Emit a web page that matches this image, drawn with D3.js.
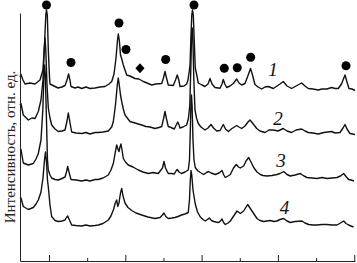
<!DOCTYPE html>
<html>
<head>
<meta charset="utf-8">
<script src="https://cdn.jsdelivr.net/npm/d3@7"></script>
<style>
    html, body { margin: 0; padding: 0; background: #fff; }
    svg { display: block; }
</style>
</head>
<body>
<div id="chart"></div>
<script>

// 2theta (deg), intensity (a.u., curves already stacked)
var curve1 = [[6.20,184],[6.33,186.5],[6.59,181],[6.86,177],[7.51,178],[8.17,177],[8.82,181],[9.21,191],[9.41,216],[9.58,246],[9.67,251],[9.78,246],[9.91,211],[10.07,183],[10.13,177],[10.66,175],[11.18,173],[11.70,174],[12.10,175.5],[12.36,181],[12.56,187],[12.75,181],[12.88,174.5],[13.41,173],[13.80,174],[14.29,172.5],[14.85,174],[15.37,172.5],[16.03,173],[16.68,174],[17.34,174.5],[17.86,177],[18.22,179.5],[18.52,187],[18.78,203],[18.98,221],[19.08,227],[19.21,221],[19.37,206],[19.50,203],[19.74,196],[20.18,186],[20.61,185],[21.27,182.5],[21.79,182],[22.36,179.5],[22.84,178],[23.46,176],[24.02,177],[24.77,177.5],[25.00,183],[25.20,189.5],[25.40,183],[25.63,176],[26.29,175.5],[26.58,181],[26.81,186],[27.01,181],[27.17,174.5],[27.69,175],[28.04,177],[28.21,181],[28.35,188],[28.48,196],[28.61,226],[28.71,246],[28.80,251],[28.91,246],[29.03,221],[29.17,193],[29.39,185],[29.56,178],[30.05,176],[30.44,174.5],[30.84,177],[31.10,182.5],[31.36,177],[31.75,173.5],[32.41,172.7],[32.67,177],[32.84,181.5],[33.04,177],[33.29,173.5],[33.72,175],[34.15,177.5],[34.60,182],[34.90,178],[35.25,176],[35.68,177.5],[36.01,184],[36.41,192.5],[36.67,186],[36.99,176.5],[37.39,174],[37.87,172],[38.30,174],[38.74,174.5],[39.39,172.5],[39.88,175],[40.27,177],[40.70,179.5],[41.19,175],[41.80,172.5],[42.37,175],[43.11,178],[43.55,175],[43.98,172.5],[44.59,172],[45.29,171],[45.77,172],[46.39,172],[47.05,173.5],[47.48,172.5],[47.91,172.5],[48.33,177],[48.79,186],[49.05,179],[49.31,172.5],[49.71,172],[50.10,170.5]];

var curve2 = [[6.20,156],[6.33,157.5],[6.63,146],[7.29,141],[7.77,143],[8.17,142.5],[8.60,149.5],[8.95,161],[9.21,181],[9.37,211],[9.48,223],[9.58,211],[9.74,176],[9.91,153],[10.13,143],[10.35,136],[10.79,132],[11.22,129.5],[11.70,130],[12.10,131],[12.36,140],[12.53,148],[12.71,140],[12.97,129],[13.54,128],[14.29,127.5],[14.85,128.5],[15.37,127],[16.03,128.5],[16.46,128.5],[17.08,129],[17.77,130],[18.22,134],[18.43,139.5],[18.71,156],[18.95,176],[19.08,183],[19.21,176],[19.37,166],[19.53,159.5],[19.74,152],[19.96,146],[20.61,139.5],[21.27,138],[22.15,136],[22.71,134.5],[23.24,134],[23.89,132.5],[24.41,133.5],[24.77,134.5],[25.00,142],[25.20,149.5],[25.40,142],[25.63,134.5],[25.99,133.5],[26.42,132],[26.67,136],[26.87,139],[27.04,136],[27.17,133],[27.56,134],[28.04,136],[28.28,143],[28.45,156],[28.58,191],[28.69,226],[28.77,233],[28.86,221],[28.98,181],[29.13,151],[29.33,143],[29.56,137.5],[29.92,134],[30.44,131],[30.84,133],[31.23,136.5],[31.56,133],[31.98,130],[32.41,130.5],[32.84,136.5],[33.13,132],[33.50,129.5],[33.98,132.5],[34.60,135.5],[34.90,134],[35.25,132.5],[35.68,135],[36.08,139],[36.34,141],[36.67,138],[37.22,132.5],[37.65,130],[38.30,128.5],[38.83,131],[39.39,131],[40.01,130],[40.70,132.5],[41.19,130],[41.80,128.5],[42.37,131],[43.11,132],[43.55,130],[43.98,128.5],[44.59,128],[45.29,127],[46.02,128.5],[47.05,129.5],[47.48,128],[48.13,128.5],[48.53,133],[48.79,136.5],[49.05,132],[49.44,127.5],[50.10,126.5]];

var curve3 = [[6.20,111],[6.33,111.5],[6.63,98],[7.29,96],[7.94,97.5],[8.30,102],[8.60,107.5],[8.95,121],[9.19,151],[9.34,186],[9.42,196],[9.52,186],[9.67,141],[9.80,101],[9.91,91],[10.13,86],[10.35,83],[10.79,81.5],[11.22,81],[11.70,82.5],[12.10,84],[12.29,89],[12.45,94.5],[12.62,89],[12.88,81.5],[13.54,81],[14.29,80],[14.85,81],[15.37,80],[16.03,81.5],[16.46,81.5],[17.08,83],[17.77,86],[18.12,91],[18.43,97.5],[18.69,109],[18.87,116],[19.04,112],[19.17,109.5],[19.30,114],[19.43,117],[19.57,111],[19.74,102.5],[20.02,99],[20.39,96],[21.01,94],[21.70,91],[22.32,89],[23.01,87.5],[23.63,88.5],[24.32,87.5],[24.87,93],[25.07,99.5],[25.27,93],[25.63,87.5],[26.12,87.5],[26.42,87],[26.64,90],[26.81,91.5],[27.04,89],[27.37,87.5],[27.82,89],[28.25,91],[28.41,101],[28.52,131],[28.61,161],[28.67,166],[28.75,156],[28.87,121],[29.00,101],[29.17,93.5],[29.52,90],[29.83,88.5],[30.27,86.5],[30.64,88.5],[30.93,89.5],[31.23,88],[31.79,86.5],[32.28,88],[32.67,90.5],[32.91,86],[33.10,83.5],[33.46,85],[33.76,86.5],[34.18,93],[34.54,96.5],[34.83,94],[35.07,93],[35.51,95],[35.82,100],[36.17,103.5],[36.47,99],[36.82,93.5],[37.26,89],[37.69,86.5],[38.04,85.5],[38.57,85],[39.22,85.5],[39.88,86.5],[40.27,87.5],[40.76,89.5],[41.19,86.5],[41.62,85],[42.24,86],[42.93,87.5],[43.42,85],[43.81,83.5],[44.46,83],[45.12,82.5],[45.77,83.5],[46.43,82.5],[47.08,83],[47.74,83.5],[48.20,85],[48.62,87.5],[48.92,84.5],[49.27,81.5],[49.57,81],[49.97,80]];

var curve4 = [[6.20,62.5],[6.33,63],[6.63,54.5],[7.29,51.5],[7.94,53.5],[8.30,57],[8.60,61],[8.95,69],[9.21,83],[9.41,101],[9.54,109],[9.67,99],[9.80,81],[9.91,74],[10.13,56],[10.35,44.5],[10.79,40.5],[11.22,39.5],[11.70,40],[12.10,41],[12.29,43.5],[12.45,45],[12.62,42],[12.97,36],[13.54,35.5],[14.29,35],[14.85,36],[15.37,35],[16.03,35.5],[16.46,36],[17.08,37.5],[17.77,41],[18.12,45],[18.43,51],[18.69,58],[18.87,61],[19.01,54.5],[19.17,58],[19.37,68],[19.53,72.5],[19.70,65],[19.96,58],[20.35,53.5],[20.84,50.5],[21.40,48],[22.15,46],[22.97,44],[23.89,42.5],[24.55,43.5],[24.87,46],[25.07,48],[25.31,44.5],[25.63,42.5],[26.12,43],[26.51,43.5],[26.90,44.5],[27.37,46],[27.82,47],[28.25,48.5],[28.41,61],[28.52,81],[28.61,90.5],[28.71,86],[28.87,71],[29.17,57],[29.46,49],[29.83,44],[30.18,41.5],[30.48,40],[30.77,41.5],[31.01,43],[31.29,40.5],[31.58,39.5],[31.88,39],[32.24,38.5],[32.47,40],[32.67,42],[32.88,38.5],[33.10,36.5],[33.46,38],[33.76,40],[34.20,45],[34.64,50],[35.07,47.5],[35.51,50],[36.04,56.5],[36.34,53],[36.60,50],[36.99,45.5],[37.26,42.5],[37.65,40.5],[38.13,39.5],[38.57,40],[39.00,40.5],[39.48,39.5],[39.88,40],[40.27,41.5],[40.76,42.5],[41.19,40],[41.62,38.5],[42.24,39.5],[43.15,40],[43.55,38],[44.03,36.5],[44.59,36],[45.12,36],[45.77,36.5],[46.43,36.5],[47.08,36],[47.74,36],[48.20,38],[48.62,40],[48.92,37.5],[49.27,36],[49.57,35],[49.91,34]];

var curves = [curve1, curve2, curve3, curve4];
var curveNames = ["1", "2", "3", "4"];
var curveLabelAt = [[39.35, 185], [40.0, 136], [40.4, 94], [40.86, 47]];

// phase marks above curve 1
var dotMarks = [[9.67,256],[12.88,198.5],[19.17,238],[20.09,211.5],[25.29,201.5],[29.00,256],[32.97,192.7],[34.67,193.3],[36.43,203.7],[48.92,195.3]];
var diamondMarks = [[21.92,192.7]];

var majorTicks = [10, 20, 30, 40, 50];
var minorTicks = [15, 25, 35, 45];
var yTitle = "Интенсивность, отн. ед.";

var width = 357, height = 263;
var margin = { left: 20, right: 2, top: 13, bottom: 2 };

var svg = d3.select("#chart").append("svg")
    .attr("width", width)
    .attr("height", height);

var x = d3.scaleLinear().domain([6.2, 50.1]).range([margin.left, width - margin.right]);
var y = d3.scaleLinear().domain([0, 248]).range([height - margin.bottom, margin.top]);

var line = d3.line()
    .x(function (d) { return x(d[0]); })
    .y(function (d) { return y(d[1]); });

svg.selectAll("path.curve").data(curves)
    .enter().append("path")
    .attr("class", "curve")
    .attr("d", line)
    .style("fill", "none")
    .style("stroke", "#111")
    .style("stroke-width", 1.4)
    .style("stroke-linejoin", "round");

// axes
var xAxisMajor = d3.axisBottom(x).tickValues(majorTicks).tickSizeInner(-6).tickSizeOuter(0).tickFormat("");
var xAxisMinor = d3.axisBottom(x).tickValues(minorTicks).tickSizeInner(-3).tickSizeOuter(0).tickFormat("");
var yAxis = d3.axisLeft(y).tickValues([]).tickSizeOuter(0);

var gx = svg.append("g").attr("transform", "translate(0," + y(0) + ")");
gx.call(xAxisMajor);
var gx2 = svg.append("g").attr("transform", "translate(0," + y(0) + ")");
gx2.call(xAxisMinor);
gx2.select(".domain").remove();
var gy = svg.append("g").attr("transform", "translate(" + x(6.2) + ",0)");
gy.call(yAxis);

svg.selectAll(".domain, .tick line").style("stroke", "#222").style("stroke-width", 1);

// markers
svg.selectAll("circle.mark").data(dotMarks)
    .enter().append("circle")
    .attr("class", "mark")
    .attr("cx", function (d) { return x(d[0]); })
    .attr("cy", function (d) { return y(d[1]); })
    .attr("r", 4.5)
    .style("fill", "#000");

svg.selectAll("path.diamond").data(diamondMarks)
    .enter().append("path")
    .attr("class", "diamond")
    .attr("transform", function (d) { return "translate(" + x(d[0]) + "," + y(d[1]) + ")"; })
    .attr("d", "M0,-5L4.6,0L0,5L-4.6,0Z")
    .style("fill", "#000");

// curve numbers
svg.selectAll("text.num").data(curveNames)
    .enter().append("text")
    .attr("class", "num")
    .attr("x", function (d, i) { return x(curveLabelAt[i][0]); })
    .attr("y", function (d, i) { return y(curveLabelAt[i][1]); })
    .attr("text-anchor", "middle")
    .style("font-family", "'Liberation Serif', 'DejaVu Serif', serif")
    .style("font-style", "italic")
    .style("font-size", "19px")
    .style("fill", "#111")
    .text(function (d) { return d; });

svg.append("text")
    .attr("transform", "translate(15," + 147 + ") rotate(-90)")
    .attr("text-anchor", "middle")
    .style("font-family", "'Liberation Serif', 'DejaVu Serif', serif")
    .style("font-size", "15px")
    .style("fill", "#222")
    .text(yTitle);

</script>
</body>
</html>
